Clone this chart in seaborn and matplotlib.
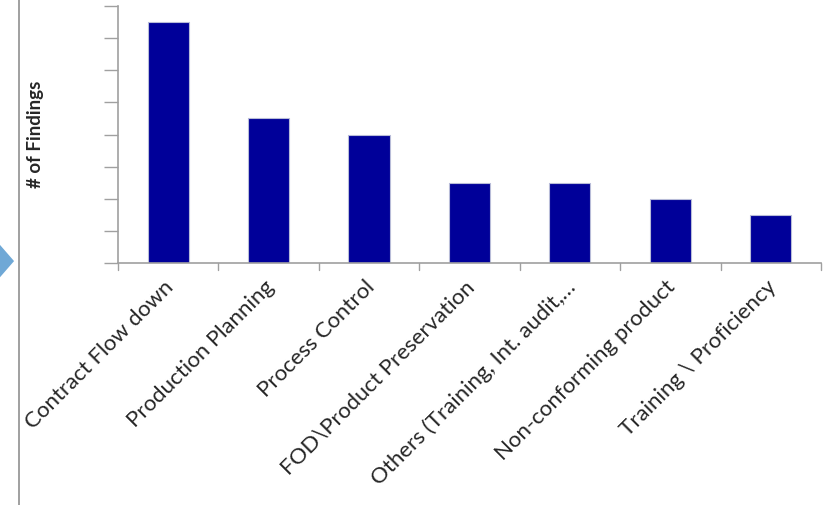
import matplotlib.pyplot as plt
import matplotlib.transforms as mtransforms
import seaborn as sns
import pandas as pd
from matplotlib.patches import Polygon
from matplotlib.lines import Line2D

categories = ['Contract Flow down', 'Production Planning', 'Process Control',
              'FOD\\Product Preservation', 'Others (Training, Int. audit,\u2026',
              'Non-conforming product', 'Training \\ Proficiency']
findings = [15, 9, 8, 5, 5, 4, 3]

df = pd.DataFrame({'category': categories, 'findings': findings})

sns.set_style('white')
plt.rcParams['font.family'] = ['Lato', 'DejaVu Sans']

fig = plt.figure(figsize=(8.27, 5.05), dpi=100)
ax = fig.add_axes([0.1427, 0.4792, 0.85, 0.5088])

sns.barplot(x='category', y='findings', data=df, color='#000099', saturation=1,
            width=0.41, edgecolor='#b8bcd8', linewidth=0.8, ax=ax)

ax.set_ylim(0, 16)
ax.set_xlim(-0.5, 6.5)
ax.set_yticks(range(0, 17, 2))
ax.set_yticklabels([])
ax.set_xticks(range(len(categories)))
ax.set_xticklabels(categories, rotation=45, ha='right', rotation_mode='anchor', fontsize=16)
ax.tick_params(axis='x', length=0, pad=10)
ax.tick_params(axis='y', length=10, width=1, color='#a0a0a0', left=True)
# shift labels slightly left
shift = mtransforms.ScaledTranslation(-5 / 100, 0, fig.dpi_scale_trans)
for lbl in ax.get_xticklabels():
    lbl.set_transform(lbl.get_transform() + shift)
# x tick marks between categories
for b in [x - 0.5 for x in range(len(categories) + 1)]:
    ax.plot([b, b], [0, -0.45], color='#a0a0a0', lw=1, clip_on=False)

for s in ['top', 'right']:
    ax.spines[s].set_visible(False)
for s in ['left', 'bottom']:
    ax.spines[s].set_color('#a0a0a0')
    ax.spines[s].set_linewidth(1.2)

ax.set_xlabel('')
ax.set_ylabel('')
fig.text(0.043, 0.734, '# of Findings', rotation=90, ha='center', va='center',
         fontsize=13.5, fontweight='bold')

# left page decorations
fig.add_artist(Line2D([0.023, 0.023], [0, 1], color='#909090', lw=1.2))
fig.add_artist(Polygon([[0, 0.515], [0.017, 0.483], [0, 0.451]], closed=True,
                       facecolor='#6fa8d6', edgecolor='none'))

fig.savefig('out.png', dpi=100)
